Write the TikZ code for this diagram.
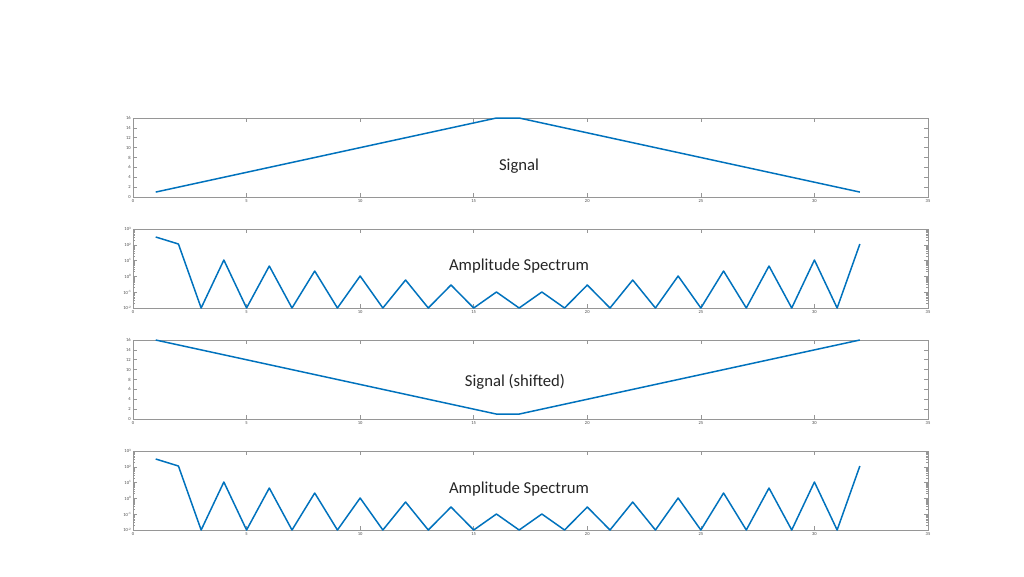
\documentclass[tikz,border=0pt]{standalone}
\usepackage{fontspec}
\setmainfont{Carlito}
\definecolor{mblue}{RGB}{0,114,189}
\definecolor{axgray}{RGB}{150,150,150}
\begin{document}
\begin{tikzpicture}[x=0.02cm,y=-0.02cm,
  frame/.style={draw=axgray,line width=0.4pt},
  tk/.style={draw=axgray,line width=0.3pt},
  tl/.style={font=\fontsize{2.6}{3}\selectfont,text=black!70,inner sep=0.5pt},
  curve/.style={draw=mblue,line width=0.85pt,line join=round},
  ttl/.style={font=\fontsize{9.5}{11}\selectfont,text=black!85}]
\fill[white] (0,0) rectangle (1024,576);
\def\X#1{133+22.714*#1}
% linear axes
\foreach \t in {118,340}{
  \draw[frame] (133,\t) rectangle (928,\t+79);
  \foreach \v in {0,5,...,35}{
    \draw[tk] ({\X{\v}},\t+79) -- ++(0,-4);
    \draw[tk] ({\X{\v}},\t) -- ++(0,4);
    \node[tl,below] at ({\X{\v}},\t+80) {\v};}
  \foreach \v in {0,2,...,16}{
    \draw[tk] (133,{\t+79-79*\v/16}) -- ++(4,0);
    \draw[tk] (928,{\t+79-79*\v/16}) -- ++(-4,0);
    \node[tl,left] at (132,{\t+79-79*\v/16}) {\v};}
}
% log axes
\foreach \t in {229,451}{
  \draw[frame] (133,\t) rectangle (928,\t+79);
  \foreach \v in {0,5,...,35}{
    \draw[tk] ({\X{\v}},\t+79) -- ++(0,-4);
    \draw[tk] ({\X{\v}},\t) -- ++(0,4);
    \node[tl,below] at ({\X{\v}},\t+80) {\v};}
  \foreach \e [count=\i from 0] in {3,2,1,0,-1,-2}{
    \draw[tk] (133,\t+15.8*\i) -- ++(4,0);
    \draw[tk] (928,\t+15.8*\i) -- ++(-4,0);
    \node[tl,left] at (132,\t+15.8*\i) {10\raisebox{0.9pt}{\fontsize{1.9}{2}\selectfont\e}};}
  \foreach \i in {1,...,5}{
    \foreach \m in {2,...,9}{
      \draw[tk] (133,{\t+15.8*\i-15.8*log10(\m)}) -- ++(2,0);
      \draw[tk] (928,{\t+15.8*\i-15.8*log10(\m)}) -- ++(-2,0);}}
}
% signal
\draw[curve] ({\X{1}},{197-79/16}) -- ({\X{16}},118) -- ({\X{17}},118) -- ({\X{32}},{197-79/16});
\draw[curve] ({\X{1}},340) -- ({\X{16}},{419-79/16}) -- ({\X{17}},{419-79/16}) -- ({\X{32}},340);
% spectra
\foreach \t in {229,451}{
  \draw[curve] ({\X{1}},\t+8) -- ({\X{2}},\t+15)
    -- ({\X{3}},\t+79) -- ({\X{4}},\t+31) -- ({\X{5}},\t+79) -- ({\X{6}},\t+37)
    -- ({\X{7}},\t+79) -- ({\X{8}},\t+42) -- ({\X{9}},\t+79) -- ({\X{10}},\t+47)
    -- ({\X{11}},\t+79) -- ({\X{12}},\t+51) -- ({\X{13}},\t+79) -- ({\X{14}},\t+56)
    -- ({\X{15}},\t+79) -- ({\X{16}},\t+63) -- ({\X{17}},\t+79) -- ({\X{18}},\t+63)
    -- ({\X{19}},\t+79) -- ({\X{20}},\t+56) -- ({\X{21}},\t+79) -- ({\X{22}},\t+51)
    -- ({\X{23}},\t+79) -- ({\X{24}},\t+47) -- ({\X{25}},\t+79) -- ({\X{26}},\t+42)
    -- ({\X{27}},\t+79) -- ({\X{28}},\t+37) -- ({\X{29}},\t+79) -- ({\X{30}},\t+31)
    -- ({\X{31}},\t+79) -- ({\X{32}},\t+15);
}
\node[ttl] (t1) at (519,166) {Signal};
\node[ttl] (t2) at (519,266) {Amplitude Spectrum};
\node[ttl] (t3) at (515,382) {Signal (shifted)};
\node[ttl] (t4) at (519,489) {Amplitude Spectrum};
\end{tikzpicture}
\end{document}
